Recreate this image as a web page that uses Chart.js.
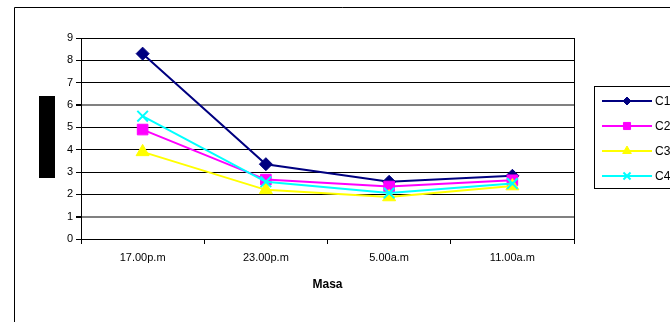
<!DOCTYPE html>
<html>
<head>
<meta charset="utf-8">
<script src="https://cdn.jsdelivr.net/npm/chart.js@4/dist/chart.umd.min.js"></script>
<style>
  html, body { margin: 0; padding: 0; background: #fff; }
  #wrap { width: 670px; height: 322px; }
</style>
</head>
<body>
<div id="wrap"><canvas id="c" width="670" height="322"></canvas></div>
<script>
// Sampling times along the x axis
const categories = ['17.00p.m', '23.00p.m', '5.00a.m', '11.00a.m'];
// Readings for each series
const c1 = [8.3, 3.35, 2.56, 2.83];
const c2 = [4.9, 2.66, 2.35, 2.63];
const c3 = [3.9, 2.2, 1.88, 2.37];
const c4 = [5.5, 2.56, 2.06, 2.48];
const seriesNames = ['C1', 'C2', 'C3', 'C4'];
const yTicks = [0, 1, 2, 3, 4, 5, 6, 7, 8, 9];
const xTitle = 'Masa';

const FONT = '"Liberation Sans", Arial, sans-serif';

const styles = [
  { color: '#000080', pointStyle: 'rectRot', radius: 6.5, legendRadius: 4 },
  { color: '#FF00FF', pointStyle: 'rect', radius: 7.5, legendRadius: 5 },
  { color: '#FFFF00', pointStyle: 'triangle', radius: 7.5, legendRadius: 5 },
  { color: '#00FFFF', pointStyle: 'crossRot', radius: 7.5, legendRadius: 5 }
];
const seriesData = [c1, c2, c3, c4];

const datasets = seriesData.map((d, i) => ({
  label: seriesNames[i],
  data: d,
  borderColor: styles[i].color,
  backgroundColor: styles[i].color,
  borderWidth: 2,
  pointStyle: styles[i].pointStyle,
  pointRadius: styles[i].radius,
  pointHoverRadius: styles[i].radius,
  pointBorderWidth: i === 3 ? 2 : 1,
  pointBorderColor: styles[i].color,
  pointBackgroundColor: styles[i].color,
  tension: 0,
  fill: false
}));
// C1 sits underneath, C4 on top
datasets.reverse();

const framePlugin = {
  id: 'frame',
  beforeDraw(chart) {
    const ctx = chart.ctx;
    ctx.save();
    ctx.fillStyle = '#fff';
    ctx.fillRect(0, 0, chart.width, chart.height);
    // outer chart border (left and top edges visible)
    ctx.strokeStyle = '#000';
    ctx.lineWidth = 1;
    ctx.beginPath();
    ctx.moveTo(14.5, 330);
    ctx.lineTo(14.5, 7.5);
    ctx.lineTo(680, 7.5);
    ctx.stroke();
    // vertical axis title block
    ctx.fillStyle = '#000';
    ctx.fillRect(39, 96, 16, 82);
    ctx.restore();
  },
  beforeDatasetsDraw(chart) {
    const a = chart.chartArea;
    const ctx = chart.ctx;
    ctx.save();
    ctx.strokeStyle = '#000';
    ctx.lineWidth = 1;
    ctx.strokeRect(Math.round(a.left) + 0.5, Math.round(a.top) + 0.5, Math.round(a.right - a.left), Math.round(a.bottom - a.top));
    ctx.restore();
  },
  afterDraw(chart) {
    const ctx = chart.ctx;
    ctx.save();
    // legend box
    ctx.strokeStyle = '#000';
    ctx.lineWidth = 1;
    ctx.strokeRect(594.5, 86.5, 100, 102);
    const rows = [101, 126, 151, 176];
    ctx.font = '12px ' + FONT;
    ctx.textBaseline = 'middle';
    ctx.textAlign = 'left';
    seriesNames.forEach((name, i) => {
      const y = rows[i];
      const s = styles[i];
      ctx.strokeStyle = s.color;
      ctx.lineWidth = 2;
      ctx.beginPath();
      ctx.moveTo(602, y);
      ctx.lineTo(652, y);
      ctx.stroke();
      ctx.fillStyle = s.color;
      ctx.strokeStyle = s.color;
      ctx.lineWidth = i === 3 ? 2 : 1;
      Chart.helpers.drawPoint(ctx, { pointStyle: s.pointStyle, radius: s.legendRadius, rotation: 0, borderWidth: ctx.lineWidth }, 627, y);
      ctx.fillStyle = '#000';
      ctx.fillText(name, 655, y + 0.5);
    });
    ctx.restore();
  }
};

new Chart(document.getElementById('c'), {
  type: 'line',
  data: { labels: categories, datasets },
  options: {
    responsive: false,
    animation: false,
    devicePixelRatio: 1,
    layout: { padding: { left: 0, top: 38, right: 96, bottom: 0 } },
    plugins: { legend: { display: false }, tooltip: { enabled: false } },
    scales: {
      x: {
        type: 'category',
        offset: true,
        afterFit(scale) { scale.height = 83; },
        grid: {
          offset: true,
          drawOnChartArea: false,
          drawTicks: true,
          tickLength: 5,
          color: '#000'
        },
        border: { display: true, color: '#000', width: 1 },
        ticks: {
          color: '#000',
          padding: 7,
          maxRotation: 0,
          autoSkip: false,
          font: { family: FONT, size: 11 }
        },
        title: {
          display: true,
          text: xTitle,
          color: '#000',
          font: { family: FONT, size: 12, weight: 'bold' },
          padding: { top: 0, bottom: 30 }
        }
      },
      y: {
        min: 0,
        max: 9,
        afterFit(scale) { scale.width = 81; },
        afterBuildTicks(scale) { scale.ticks = yTicks.map(v => ({ value: v })); },
        grid: {
          drawTicks: true,
          tickLength: 5,
          color(ctx) {
            const v = ctx.tick ? ctx.tick.value : null;
            return (v === 1 || v === 6) ? '#808080' : '#000';
          },
          lineWidth(ctx) {
            const v = ctx.tick ? ctx.tick.value : null;
            return (v === 1 || v === 6) ? 2 : 1;
          },
          tickColor: '#000'
        },
        border: { display: true, color: '#000', width: 1 },
        ticks: {
          color: '#000',
          padding: 3,
          font: { family: FONT, size: 11 }
        }
      }
    }
  },
  plugins: [framePlugin]
});
</script>
</body>
</html>
